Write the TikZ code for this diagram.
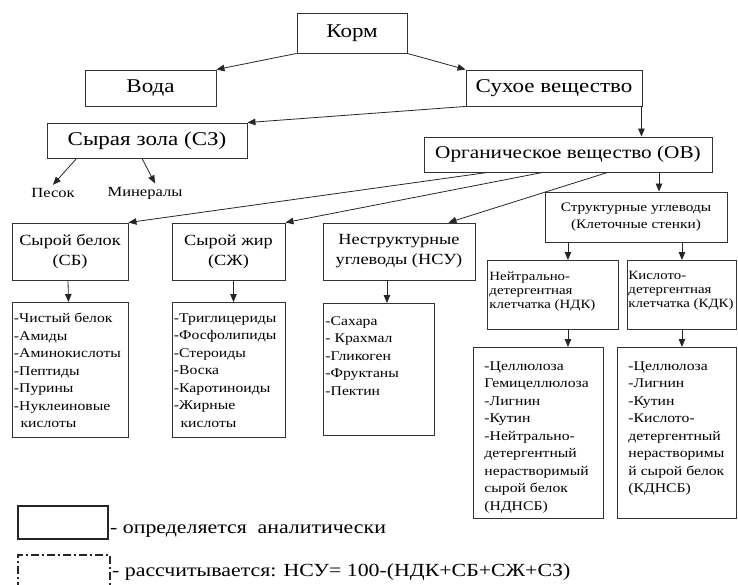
\documentclass[tikz,border=0pt]{standalone}
\usepackage{fontspec}
\setmainfont{Liberation Serif}[FakeStretch=1.18]
\usetikzlibrary{arrows.meta}
\def\listbox#1#2#3{\parbox[t][#2][t]{#1}{\raggedright #3}}

\begin{document}
\begin{tikzpicture}[x=1pt,y=-1pt,
		box/.style={draw=black!80, line width=0.9pt, inner sep=0pt, align=center},
		arr/.style={draw=black!85, line width=0.8pt, -{Triangle[length=8pt,width=6.5pt]}},
		big/.style={font=\fontsize{19.5}{23}\selectfont},
		mid/.style={font=\fontsize{15.5}{20}\selectfont},
		sml/.style={font=\fontsize{13}{17}\selectfont},
		lst/.style={font=\fontsize{13.3}{17.5}\selectfont},
		ndkfont/.style={font=\fontsize{12.6}{14}\selectfont},
		leg/.style={font=\fontsize{18.5}{22}\selectfont}]
				\useasboundingbox (0,0) rectangle (738,584);
				
				\node[box, big, minimum width=110, minimum height=40] (korm) at (352,33) {Корм};
				\node[box, big, minimum width=131, minimum height=36] (voda) at (150.5,88) {Вода};
				\node[box, big, minimum width=176, minimum height=36] (suhoe) at (554,88) {Сухое вещество};
				\node[box, big, minimum width=200, minimum height=35] (zola) at (147,140.5) {Сырая зола (СЗ)};
				\node[box, big, font=\fontsize{18}{22}\selectfont, minimum width=288, minimum height=35] (ov) at (568,154.5) {Органическое вещество (ОВ)};
				
				\node[font=\fontsize{14}{17}\selectfont] (pesok) at (53,193) {Песок};
				\node[font=\fontsize{14}{17}\selectfont] (mineraly) at (145,193) {Минералы};
				
				\node[box, mid, minimum width=116, minimum height=57] (belok) at (70,251.5) {Сырой белок\\(СБ)};
				\node[box, mid, minimum width=113, minimum height=57] (zhir) at (228.5,251.5) {Сырой жир\\(СЖ)};
				\node[box, mid, minimum width=152, minimum height=57] (nsu) at (399,251.5) {Неструктурные\\углеводы (НСУ)};
				\node[box, sml, minimum width=182, minimum height=50] (struct) at (636,217) {Структурные углеводы\\(Клеточные стенки)};
				
				\node[box, ndkfont, anchor=north west, inner xsep=2pt, inner ysep=11pt] (ndk) at (487,260) {\listbox{127pt}{47pt}{Нейтрально-\\детергентная\\клетчатка (НДК)}};
				\node[box, ndkfont, anchor=north west, inner xsep=1pt, inner ysep=11pt] (kdk) at (627,260) {\listbox{107pt}{47pt}{Кислото-\\детергентная\\клетчатка (КДК)}};
				
				\node[box, lst, anchor=north west, inner xsep=1.5pt, inner ysep=11pt] (beloklist) at (12,302) {\listbox{113pt}{113pt}{-Чистый белок\\-Амиды\\-Аминокислоты\\-Пептиды\\-Пурины\\-Нуклеиновые\\\hspace*{0.5em}кислоты}};
				\node[box, lst, anchor=north west, inner xsep=1.5pt, inner ysep=11pt] (zhirlist) at (172,302) {\listbox{110pt}{113pt}{-Триглицериды\\-Фосфолипиды\\-Стероиды\\-Воска\\-Каротиноиды\\-Жирные\\\hspace*{0.5em}кислоты}};
				\node[box, lst, anchor=north west, inner xsep=2pt, inner ysep=13pt] (nsulist) at (323,303) {\listbox{107pt}{106pt}{-Сахара\\- Крахмал\\-Гликоген\\-Фруктаны\\-Пектин}};
				\node[box, lst, anchor=north west, inner xsep=11pt, inner ysep=14pt] (ndklist) at (473,347) {\listbox{108pt}{143pt}{-Целлюлоза\\Гемицеллюлоза\\-Лигнин\\-Кутин\\-Нейтрально-\\детергентный\\нерастворимый\\сырой белок\\(НДНСБ)}};
				\node[box, lst, anchor=north west, inner xsep=11pt, inner ysep=14pt] (kdklist) at (617,347) {\listbox{97pt}{143pt}{-Целлюлоза\\-Лигнин\\-Кутин\\-Кислото-\\детергентный\\нерастворимы\\й сырой белок\\(КДНСБ)}};
				
				\draw[arr] (korm.south west) -- (voda.north east);
				\draw[arr] (korm.south east) -- (suhoe.north west);
				\draw[arr] (suhoe.south west) -- (zola.north east);
				\draw[arr] ([xshift=-1pt]suhoe.south east) -- ([xshift=-1pt]suhoe.south east |- ov.north);
				\draw[arr] ([xshift=30pt]zola.south west) -- (pesok.north);
				\draw[arr] ([xshift=-5pt]zola.south) -- ([xshift=10pt]mineraly.north);
				
				\draw[arr] ([xshift=64pt]ov.south west) -- (belok.north east);
				\draw[arr] ([xshift=119pt]ov.south west) -- (zhir.north east);
				\draw[arr] ([xshift=184pt]ov.south west) -- ([xshift=-27pt]nsu.north east);
				\draw[arr] ([xshift=91pt]ov.south) -- ([xshift=91pt]ov.south |- struct.north);
				\draw[arr] ([xshift=15pt]ndk.north |- struct.south) -- ([xshift=15pt]ndk.north);
				\draw[arr] (kdk.north |- struct.south) -- (kdk.north);
				
				\draw[arr] ([xshift=-2pt]belok.south) -- ([xshift=-2pt]beloklist.north);
				\draw[arr] ([xshift=5pt]zhir.south) -- ([xshift=5pt]zhir.south |- zhirlist.north);
				\draw[arr] ([xshift=8pt]nsulist.north |- nsu.south) -- ([xshift=8pt]nsulist.north);
				\draw[arr] ([xshift=15pt]ndk.south) -- ([xshift=15pt]ndk.south |- ndklist.north);
				\draw[arr] (kdk.south) -- (kdk.south |- kdklist.north);
				
				\node[draw=black!85, line width=1.8pt, minimum width=90, minimum height=33] (legsolid) at (63,522.5) {};
				\node[leg, anchor=base west, inner sep=0pt] (legtext1) at (110,533) {- определяется\ \ аналитически};
				\node[draw=black!85, line width=1.5pt, dash pattern=on 8pt off 3pt on 2pt off 3pt, minimum width=92, minimum height=45] (legdash) at (64,577.5) {};
				\node[leg, anchor=base west, inner sep=0pt] (legtext2) at (112,576) {- рассчитывается: НСУ= 100-(НДК+СБ+СЖ+СЗ)};
			\end{tikzpicture}
\end{document}
